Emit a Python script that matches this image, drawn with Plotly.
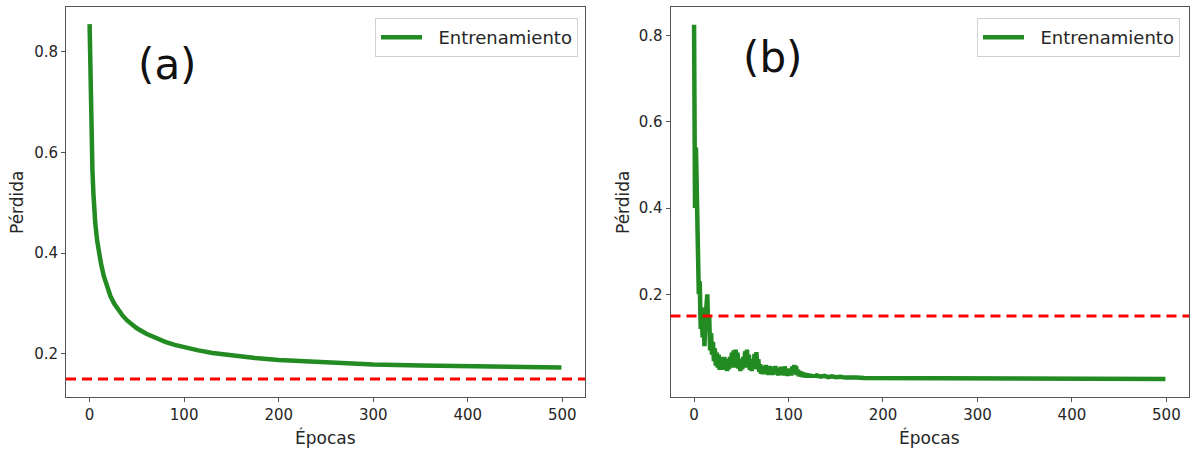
import plotly.graph_objects as go

W, H = 1190, 450

# ---------------- data ----------------
epochs_a = [0, 1, 2, 3, 4, 5, 6, 8, 10, 12, 15, 18, 22, 26, 30, 35, 40, 45, 50, 60, 70,
            80, 90, 100, 115, 130, 150, 175, 200, 230, 260, 300, 350, 400, 450, 499]
loss_a = [0.855, 0.72, 0.63, 0.565, 0.52, 0.485, 0.46, 0.425, 0.40, 0.38, 0.355, 0.335,
          0.315, 0.30, 0.288, 0.276, 0.266, 0.258, 0.251, 0.240, 0.231, 0.224, 0.218,
          0.213, 0.207, 0.202, 0.197, 0.192, 0.188, 0.185, 0.182, 0.179, 0.177, 0.175,
          0.174, 0.173]

epochs_b = list(range(0, 131)) + [134, 138, 142, 146, 150, 155, 160, 166, 172, 180, 190,
                                   200, 250, 300, 350, 400, 450, 499]
loss_b = [0.825, 0.40, 0.54, 0.38, 0.25, 0.20, 0.23, 0.12, 0.17, 0.10,
          0.16, 0.08, 0.14, 0.19, 0.20, 0.12, 0.15, 0.07, 0.11, 0.06,
          0.09, 0.045, 0.075, 0.035, 0.065, 0.03, 0.06, 0.025, 0.055, 0.03,
          0.05, 0.025, 0.055, 0.028, 0.045, 0.022, 0.05, 0.027, 0.055, 0.03,
          0.065, 0.035, 0.07, 0.03, 0.072, 0.035, 0.065, 0.028, 0.05, 0.022,
          0.045, 0.026, 0.055, 0.03, 0.068, 0.035, 0.072, 0.03, 0.06, 0.025,
          0.05, 0.022, 0.045, 0.027, 0.062, 0.03, 0.066, 0.026, 0.05, 0.02,
          0.038, 0.016, 0.034, 0.015, 0.032, 0.017, 0.036, 0.015, 0.03, 0.013,
          0.034, 0.016, 0.032, 0.013, 0.03, 0.015, 0.034, 0.016, 0.03, 0.012,
          0.027, 0.013, 0.032, 0.015, 0.028, 0.012, 0.033, 0.014, 0.028, 0.011,
          0.024, 0.012, 0.028, 0.012, 0.033, 0.015, 0.036, 0.016, 0.034, 0.013,
          0.025, 0.01, 0.022, 0.009, 0.02, 0.008, 0.018, 0.009, 0.017, 0.007,
          0.016, 0.008, 0.015, 0.008, 0.014, 0.008, 0.013, 0.008, 0.013, 0.008,
          0.012,
          0.009, 0.011, 0.008, 0.01, 0.008, 0.009, 0.007, 0.008, 0.007, 0.006, 0.006,
          0.005, 0.005, 0.004, 0.004, 0.004, 0.004, 0.004]

threshold = 0.15
x_ticks = [0, 100, 200, 300, 400, 500]
y_ticks = [0.2, 0.4, 0.6, 0.8]
panel_labels = ["(a)", "(b)"]
series_name = "Entrenamiento"
x_title = "Épocas"
y_title = "Pérdida"

GREEN = "#228B22"
RED = "#FF0000"
TXT = "#262626"
FONT = "DejaVu Sans"


def px(x):
    return x / W


def py(y):
    return 1 - y / H


# leading no-break spaces only widen the gap between legend swatch and label
legend_label = "\u00a0\u00a0" + series_name

fig = go.Figure()
fig.add_trace(go.Scatter(x=epochs_a, y=loss_a, mode="lines", name=legend_label,
                         line=dict(color=GREEN, width=4.5), xaxis="x", yaxis="y",
                         legend="legend"))
fig.add_trace(go.Scatter(x=epochs_b, y=loss_b, mode="lines", name=legend_label,
                         line=dict(color=GREEN, width=4.5), xaxis="x2", yaxis="y2",
                         legend="legend2"))

for xr, yr in (("x", "y"), ("x2", "y2")):
    fig.add_shape(type="line", xref=f"{xr} domain", yref=yr, x0=0, x1=1,
                  y0=threshold, y1=threshold,
                  line=dict(color=RED, width=3, dash="10px,6px"), layer="above")

axis_common = dict(showline=True, linecolor="#555555", linewidth=1, mirror=True,
                   ticks="outside", ticklen=4, tickwidth=1, tickcolor="#555555",
                   showgrid=False, zeroline=False, automargin=False,
                   tickfont=dict(family=FONT, size=15, color=TXT))

y_dom = [py(397), py(7)]
legend_common = dict(xanchor="right", yanchor="top", bgcolor="white",
                     bordercolor="#d0d0d0", borderwidth=1,
                     font=dict(family=FONT, size=18, color=TXT), itemwidth=41)
fig.update_layout(
    template="none",
    width=W, height=H,
    margin=dict(l=0, r=0, t=0, b=0),
    paper_bgcolor="white", plot_bgcolor="white",
    font=dict(family=FONT, color=TXT),
    xaxis=dict(domain=[px(66), px(585)], range=[-24.95, 523.95], tickvals=x_ticks,
               anchor="y", **axis_common),
    yaxis=dict(domain=y_dom, range=[0.1145, 0.889], tickvals=y_ticks,
               tickformat=".1f", anchor="x", **axis_common),
    xaxis2=dict(domain=[px(670.5), px(1189)], range=[-24.95, 523.95], tickvals=x_ticks,
                anchor="y2", **axis_common),
    yaxis2=dict(domain=y_dom, range=[-0.038, 0.866], tickvals=y_ticks,
                tickformat=".1f", anchor="x2", **axis_common),
    legend=dict(x=px(578), y=py(18), **legend_common),
    legend2=dict(x=px(1180), y=py(18), **legend_common),
    showlegend=True,
)

ann = []
for lbl, cx, cy in zip(panel_labels, [167, 772], [65, 57]):
    ann.append(dict(text=lbl, x=px(cx), y=py(cy), xref="paper", yref="paper",
                    xanchor="center", yanchor="middle", showarrow=False,
                    font=dict(family=FONT, size=42, color="#111111")))
for cx in (325.5, 929.5):
    ann.append(dict(text=x_title, x=px(cx), y=py(437), xref="paper", yref="paper",
                    xanchor="center", yanchor="middle", showarrow=False,
                    font=dict(family=FONT, size=17, color=TXT)))
for cx in (17, 623):
    ann.append(dict(text=y_title, x=px(cx), y=py(202), xref="paper", yref="paper",
                    xanchor="center", yanchor="middle", showarrow=False, textangle=-90,
                    font=dict(family=FONT, size=17, color=TXT)))
fig.update_layout(annotations=ann)

fig.write_html("out.html")
